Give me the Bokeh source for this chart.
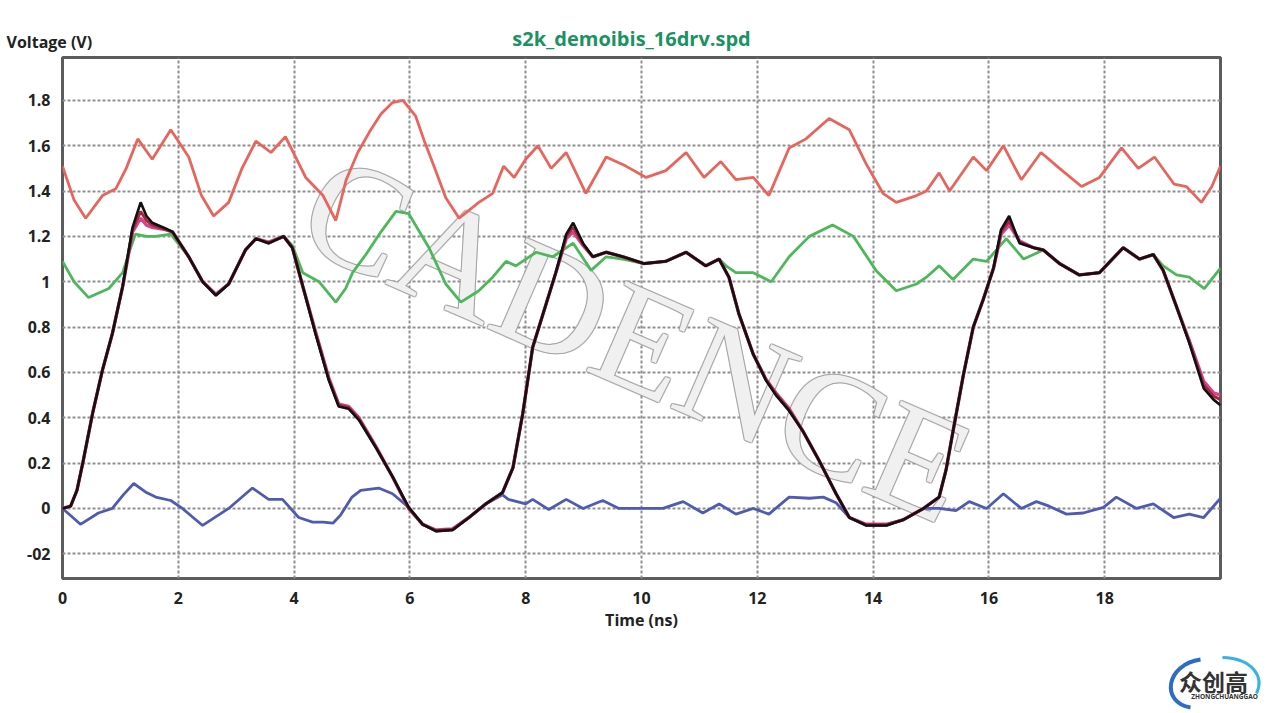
from bokeh.plotting import figure
from bokeh.models import FixedTicker, Range1d
from bokeh.layouts import column
from bokeh.core.properties import value
from bokeh.embed import file_html
from bokeh.resources import INLINE

title_text = "s2k_demoibis_16drv.spd"
x_label = "Time (ns)"
y_label = "Voltage (V)"
watermark = "CADENCE"
logo_cn = "众创高"
logo_en = "ZHONGCHUANGGAO"

x_ticks = [0, 2, 4, 6, 8, 10, 12, 14, 16, 18]
y_ticks = [-0.2, 0.0, 0.2, 0.4, 0.6, 0.8, 1.0, 1.2, 1.4, 1.6, 1.8]
y_tick_labels = ["-02", "0", "0.2", "0.4", "0.6", "0.8", "1", "1.2", "1.4", "1.6", "1.8"]

# red trace (upper)
red_t = [0.0, 0.2, 0.4, 0.69, 0.92, 1.1, 1.3, 1.55, 1.87, 2.18, 2.4, 2.61, 2.87, 3.1, 3.34, 3.6,
         3.85, 4.2, 4.5, 4.72, 4.9, 5.1, 5.3, 5.5, 5.7, 5.88, 6.1, 6.25, 6.4, 6.62, 6.85, 7.19,
         7.43, 7.62, 7.8, 8.0, 8.21, 8.44, 8.7, 9.04, 9.39, 9.73, 10.08, 10.42, 10.77, 11.08,
         11.37, 11.63, 11.93, 12.2, 12.4, 12.55, 12.84, 13.24, 13.59, 13.88, 14.17, 14.4, 14.75,
         14.92, 15.14, 15.32, 15.73, 15.96, 16.25, 16.56, 16.9, 17.22, 17.6, 17.91, 18.29, 18.58,
         18.86, 19.2, 19.41, 19.67, 19.85, 20.0]
red_v = [1.51, 1.36, 1.28, 1.38, 1.41, 1.50, 1.63, 1.54, 1.67, 1.55, 1.38, 1.29, 1.35, 1.50, 1.62, 1.57,
         1.64, 1.46, 1.38, 1.27, 1.45, 1.57, 1.66, 1.74, 1.79, 1.80, 1.73, 1.62, 1.52, 1.37, 1.28, 1.35,
         1.39, 1.51, 1.46, 1.54, 1.60, 1.50, 1.57, 1.39, 1.55, 1.51, 1.46, 1.49, 1.57, 1.46,
         1.53, 1.45, 1.46, 1.38, 1.50, 1.59, 1.63, 1.72, 1.67, 1.52, 1.39, 1.35, 1.38,
         1.40, 1.48, 1.40, 1.55, 1.49, 1.60, 1.45, 1.57, 1.50, 1.42, 1.46, 1.59, 1.50,
         1.55, 1.43, 1.42, 1.35, 1.42, 1.51]

# green trace
green_t = [0.0, 0.2, 0.45, 0.8, 1.04, 1.15, 1.26, 1.45, 1.61, 1.87, 2.18, 2.42, 2.65, 2.87, 3.16, 3.34,
           3.56, 3.82, 3.97, 4.15, 4.43, 4.72, 4.89, 5.01, 5.24, 5.5, 5.76, 5.98, 6.33, 6.62, 6.88,
           7.19, 7.43, 7.66, 7.83, 8.18, 8.47, 8.82, 9.13, 9.39, 9.68, 10.04, 10.42, 10.77, 11.11,
           11.34, 11.46, 11.63, 11.93, 12.24, 12.55, 12.9, 13.3, 13.66, 14.05, 14.4, 14.75, 14.92,
           15.14, 15.38, 15.73, 15.96, 16.3, 16.6, 16.94, 17.22, 17.56, 17.91, 18.32, 18.6, 18.84,
           19.01, 19.24, 19.46, 19.72, 20.0]
green_v = [1.09, 1.00, 0.93, 0.97, 1.04, 1.13, 1.21, 1.20, 1.20, 1.21, 1.11, 1.00, 0.94, 0.99, 1.14, 1.19,
           1.17, 1.20, 1.16, 1.04, 1.00, 0.91, 0.97, 1.04, 1.12, 1.22, 1.31, 1.30, 1.15, 0.99, 0.91,
           0.96, 1.02, 1.09, 1.07, 1.13, 1.11, 1.17, 1.05, 1.11, 1.10, 1.08, 1.09, 1.13, 1.07,
           1.10, 1.07, 1.04, 1.04, 1.00, 1.11, 1.20, 1.25, 1.20, 1.05, 0.96, 0.99, 1.02,
           1.07, 1.01, 1.10, 1.09, 1.19, 1.10, 1.14, 1.08, 1.03, 1.04, 1.15, 1.10, 1.12,
           1.07, 1.03, 1.02, 0.97, 1.06]

# blue trace (near 0 V)
blue_t = [0.0, 0.31, 0.62, 0.86, 1.05, 1.23, 1.45, 1.61, 1.87, 2.07, 2.42, 2.87, 3.28, 3.56, 3.8,
          4.08, 4.32, 4.5, 4.67, 4.8, 5.0, 5.15, 5.46, 5.7, 5.98, 6.22, 6.45, 6.74, 7.02, 7.31,
          7.6, 7.7, 8.0, 8.12, 8.4, 8.7, 8.99, 9.33, 9.61, 10.03, 10.37, 10.72, 11.06, 11.34,
          11.63, 11.93, 12.2, 12.55, 12.9, 13.14, 13.36, 13.59, 13.88, 14.23, 14.52, 14.87, 15.14,
          15.43, 15.66, 15.96, 16.25, 16.56, 16.82, 17.04, 17.34, 17.63, 17.98, 18.2, 18.55,
          18.84, 19.19, 19.46, 19.71, 20.0]
blue_v = [0.0, -0.07, -0.02, 0.0, 0.06, 0.11, 0.07, 0.05, 0.035, 0.0, -0.075, 0.0, 0.09, 0.04, 0.04,
          -0.04, -0.06, -0.06, -0.065, -0.03, 0.05, 0.08, 0.09, 0.065, 0.005, -0.07, -0.10, -0.095, -0.04, 0.02,
          0.06, 0.04, 0.02, 0.04, -0.005, 0.04, 0.0, 0.035, 0.0, 0.0, 0.0, 0.03, -0.02, 0.02,
          -0.025, 0.0, -0.025, 0.05, 0.045, 0.05, 0.025, -0.04, -0.075, -0.075, -0.05, 0.0, 0.0,
          -0.01, 0.03, 0.0, 0.065, 0.0, 0.03, 0.01, -0.025, -0.02, 0.005, 0.05, 0.0,
          0.02, -0.04, -0.025, -0.04, 0.045]

# main driver waveform (three nearly overlapping corners)
main_t = [0.0, 0.14, 0.25, 0.35, 0.52, 0.69, 0.86, 1.04, 1.21, 1.35, 1.45, 1.55, 1.78, 1.9, 2.18, 2.42,
          2.65, 2.87, 3.16, 3.34, 3.56, 3.82, 3.97, 4.15, 4.37, 4.6, 4.77, 4.94, 5.12, 5.41, 5.7,
          5.98, 6.22, 6.45, 6.74, 7.02, 7.31, 7.6, 7.78, 7.95, 8.12, 8.35, 8.52, 8.7, 8.82, 8.99,
          9.16, 9.39, 9.68, 10.04, 10.42, 10.77, 11.11, 11.34, 11.51, 11.68, 11.93, 12.15, 12.32,
          12.55, 12.79, 13.07, 13.36, 13.59, 13.88, 14.23, 14.52, 14.87, 15.14, 15.26, 15.38,
          15.56, 15.73, 15.9, 16.08, 16.21, 16.35, 16.53, 16.77, 16.94, 17.22, 17.56, 17.91,
          18.32, 18.6, 18.84, 19.01, 19.24, 19.46, 19.71, 19.88, 20.0]
black_v = [0.0, 0.01, 0.08, 0.20, 0.42, 0.61, 0.77, 0.98, 1.24, 1.35, 1.29, 1.26, 1.235, 1.22, 1.11, 1.00,
           0.94, 0.99, 1.14, 1.19, 1.17, 1.20, 1.15, 0.98, 0.77, 0.565, 0.45, 0.44, 0.39, 0.27, 0.14,
           0.005, -0.07, -0.10, -0.095, -0.04, 0.02, 0.07, 0.18, 0.42, 0.71, 0.90, 1.04, 1.21, 1.26, 1.17,
           1.11, 1.13, 1.11, 1.08, 1.09, 1.13, 1.07, 1.10, 1.02, 0.86, 0.68, 0.565, 0.50,
           0.43, 0.34, 0.21, 0.065, -0.04, -0.075, -0.075, -0.05, 0.0, 0.05, 0.17, 0.34,
           0.59, 0.80, 0.92, 1.06, 1.23, 1.29, 1.17, 1.15, 1.14, 1.08, 1.03, 1.04,
           1.15, 1.10, 1.12, 1.05, 0.89, 0.73, 0.53, 0.48, 0.455]
pink_v = [0.0, 0.01, 0.08, 0.20, 0.42, 0.61, 0.77, 0.98, 1.22, 1.28, 1.25, 1.24, 1.23, 1.22, 1.11, 1.00,
          0.945, 0.99, 1.14, 1.19, 1.175, 1.20, 1.15, 0.98, 0.78, 0.575, 0.46, 0.45, 0.40, 0.275, 0.14,
          0.0, -0.07, -0.095, -0.09, -0.04, 0.02, 0.07, 0.18, 0.42, 0.71, 0.90, 1.04, 1.19, 1.22, 1.16,
          1.11, 1.13, 1.11, 1.08, 1.09, 1.13, 1.07, 1.10, 1.02, 0.86, 0.68, 0.57, 0.51,
          0.44, 0.34, 0.21, 0.065, -0.04, -0.07, -0.07, -0.05, 0.0, 0.05, 0.17, 0.34,
          0.59, 0.80, 0.92, 1.06, 1.21, 1.25, 1.18, 1.15, 1.14, 1.08, 1.03, 1.04,
          1.15, 1.10, 1.12, 1.05, 0.89, 0.74, 0.56, 0.51, 0.50]
maroon_v = [0.0, 0.01, 0.08, 0.20, 0.42, 0.61, 0.77, 0.98, 1.23, 1.31, 1.27, 1.25, 1.23, 1.22, 1.11, 1.00,
            0.94, 0.99, 1.14, 1.19, 1.17, 1.20, 1.15, 0.98, 0.775, 0.57, 0.455, 0.445, 0.395, 0.27, 0.14,
            0.0, -0.07, -0.098, -0.092, -0.04, 0.02, 0.07, 0.18, 0.42, 0.71, 0.90, 1.04, 1.20, 1.24, 1.165,
            1.11, 1.13, 1.11, 1.08, 1.09, 1.13, 1.07, 1.10, 1.02, 0.86, 0.68, 0.567, 0.505,
            0.435, 0.34, 0.21, 0.065, -0.04, -0.072, -0.072, -0.05, 0.0, 0.05, 0.17, 0.34,
            0.59, 0.80, 0.92, 1.06, 1.22, 1.27, 1.175, 1.15, 1.14, 1.08, 1.03, 1.04,
            1.15, 1.10, 1.12, 1.05, 0.89, 0.735, 0.545, 0.495, 0.48]

FONT = "Open Sans"
TXT = "#222222"
W = 1266


def blank(height):
    f = figure(width=W, height=height, x_range=Range1d(0, W), y_range=Range1d(0, height),
               x_axis_type=None, y_axis_type=None, output_backend="svg", toolbar_location=None,
               min_border=0, background_fill_color="white", border_fill_color="white",
               frame_align=False)
    f.outline_line_color = None
    f.grid.visible = False
    return f


# ---- header (axis caption + title) ----
HH = 55
head = blank(HH)
head.text(x=[6], y=[HH - 41], text=[y_label], text_font=value(FONT), text_font_style="bold",
          text_font_size="16px", text_color=TXT, text_align="left", text_baseline="middle")
head.text(x=[631], y=[HH - 38], text=[title_text], text_font=value(FONT), text_font_style="bold",
          text_font_size="20px", text_color="#1a9262", text_align="center", text_baseline="middle")

# ---- main plot ----
p = figure(width=W, height=585,
           x_range=Range1d(0, 20), y_range=Range1d(-0.309, 1.989),
           output_backend="svg", toolbar_location=None, frame_align=False,
           min_border_left=62, min_border_right=W - 1220, min_border_top=2, min_border_bottom=62,
           background_fill_color="white", border_fill_color="white")

p.outline_line_color = "#5c5c5c"
p.outline_line_width = 3

p.xaxis.ticker = FixedTicker(ticks=x_ticks)
p.yaxis.ticker = FixedTicker(ticks=y_ticks)
p.xgrid.ticker = FixedTicker(ticks=x_ticks)
p.ygrid.ticker = FixedTicker(ticks=y_ticks)
p.yaxis.major_label_overrides = {t: lab for t, lab in zip(y_ticks, y_tick_labels)}

for ax in (p.xaxis[0], p.yaxis[0]):
    ax.axis_line_color = None
    ax.major_tick_line_color = None
    ax.minor_tick_line_color = None
    ax.major_tick_out = 0
    ax.major_tick_in = 0
    ax.minor_tick_out = 0
    ax.major_label_text_font = FONT
    ax.major_label_text_font_style = "bold"
    ax.major_label_text_font_size = "16px"
    ax.major_label_text_color = TXT
p.yaxis.major_label_standoff = 12
p.xaxis.major_label_standoff = 13
p.xaxis.axis_label = x_label
p.xaxis.axis_label_text_font = FONT
p.xaxis.axis_label_text_font_style = "bold"
p.xaxis.axis_label_text_font_size = "16px"
p.xaxis.axis_label_text_color = TXT
p.xaxis.axis_label_standoff = 2

p.grid.grid_line_color = "#8f8f8f"
p.grid.grid_line_width = 2
p.grid.grid_line_dash = "3 2"

# watermark (outlined look)
for dx, dy in [(-1, -1), (-1, 0), (-1, 1), (0, -1), (0, 1), (1, -1), (1, 0), (1, 1)]:
    p.text(x=[9.93], y=[0.754], text=[watermark], angle=-0.41, x_offset=dx, y_offset=dy,
           text_font=value("Liberation Serif"), text_font_size="150px",
           text_color="#9a9a9a", text_alpha=0.55, text_align="center", text_baseline="middle")
p.text(x=[9.93], y=[0.754], text=[watermark], angle=-0.41,
       text_font=value("Liberation Serif"), text_font_size="150px",
       text_color="white", text_alpha=0.85, text_align="center", text_baseline="middle")

p.line(red_t, red_v, line_color="#e8655d", line_width=2.8)
p.line(green_t, green_v, line_color="#4cb85a", line_width=2.8)
p.line(blue_t, blue_v, line_color="#4f5bb3", line_width=2.8)
p.line(main_t, pink_v, line_color="#d4458c", line_width=3.4)
p.line(main_t, maroon_v, line_color="#a3283f", line_width=3.0)
p.line(main_t, black_v, line_color="#111111", line_width=2.6)

# ---- footer (logo) ----
FH = 70
foot = blank(FH)
foot.bezier(x0=[1200], y0=[51], cx0=[1165], cy0=[46], cx1=[1160], cy1=[8], x1=[1190], y1=[3],
            line_color="#2b6cc4", line_width=4)
foot.bezier(x0=[1222], y0=[53], cx0=[1252], cy0=[52], cx1=[1264], cy1=[34], x1=[1256], y1=[17],
            line_color="#38b2e4", line_width=3)
foot.text(x=[1213], y=[30], text=[logo_cn], text_font=value("Noto Sans CJK SC"),
          text_font_style="bold", text_font_size="23px", text_color="#333333",
          text_align="center", text_baseline="middle")
foot.text(x=[1224], y=[14], text=[logo_en], text_font=value("Noto Sans"),
          text_font_style="bold", text_font_size="6.5px", text_color="#333333",
          text_align="center", text_baseline="middle")

layout = column(head, p, foot, spacing=0)
open("out.html", "w").write(file_html(layout, INLINE))
